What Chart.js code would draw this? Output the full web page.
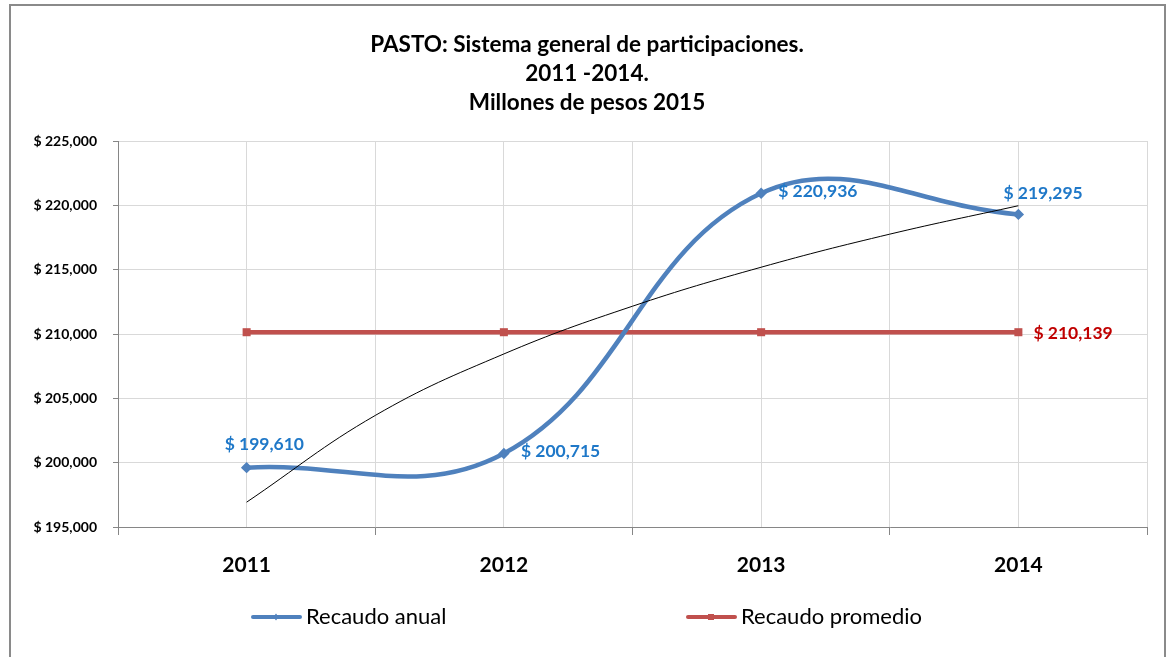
<!DOCTYPE html>
<html>
<head>
<meta charset="utf-8">
<script src="https://cdn.jsdelivr.net/npm/chart.js@4.4.1/dist/chart.umd.min.js"></script>
<style>
  html, body { margin: 0; padding: 0; background: #fff; }
  #wrap { width: 1172px; height: 657px; }
</style>
</head>
<body>
<div id="wrap"><canvas id="chart" width="1172" height="657"></canvas></div>
<script>
// data
const years = [2011, 2012, 2013, 2014];
const recaudoAnual = [199610, 200715, 220936, 219295];
const recaudoPromedio = [210139, 210139, 210139, 210139];
// black trend line (log fit in the original), estimated at half years
const trendYears = [2011, 2011.5, 2012, 2012.5, 2013, 2013.5, 2014];
const tendencia = [196930, 203670, 208450, 212160, 215190, 217760, 219970];
const titleLines = ['PASTO: Sistema general de participaciones.', '2011 -2014.', 'Millones de pesos 2015'];
const seriesNames = ['Recaudo anual', 'Recaudo promedio'];

const BLUE = '#4f81bd';
const RED = '#c0504d';
const FONT = 'Lato, "Open Sans", sans-serif';

function money(v) {
    return '$ ' + v.toLocaleString('en-US');
}

function pts(xs, ys) {
    return xs.map((x, i) => ({x: x, y: ys[i]}));
}

// where each data label sits, relative to its point (left aligned text)
const labelOffsets = [
    [[-22, -23], [17, -2], [17, -2], [-15, -21]],
    [null, null, null, [15, 1]]
];
const labelColors = ['#1f78c8', '#c00000'];

const extras = {
    id: 'extras',
    beforeDraw(chart) {
        const ctx = chart.ctx;
        ctx.save();
        ctx.fillStyle = '#fff';
        ctx.fillRect(0, 0, chart.width, chart.height);
        ctx.strokeStyle = '#8a8a8a';
        ctx.lineWidth = 2;
        ctx.strokeRect(10, 5, 1155, 700);

        // title, centred on the whole frame like the original
        ctx.fillStyle = '#000';
        ctx.font = 'bold 22.5px ' + FONT;
        ctx.textAlign = 'center';
        ctx.textBaseline = 'middle';
        titleLines.forEach((t, i) => ctx.fillText(t, 587, 45 + i * 29));
        ctx.restore();
    },
    afterDatasetsDraw(chart) {
        const ctx = chart.ctx;
        ctx.save();
        ctx.font = 'bold 17.5px ' + FONT;
        ctx.textAlign = 'left';
        ctx.textBaseline = 'middle';
        [1, 2].forEach((di, k) => {
            const meta = chart.getDatasetMeta(di);
            meta.data.forEach((el, i) => {
                const off = labelOffsets[k][i];
                if (!off) return;
                ctx.fillStyle = labelColors[k];
                ctx.fillText(money(chart.data.datasets[di].data[i].y), el.x + off[0], el.y + off[1]);
            });
        });

        // legend
        const items = [
            {x: 253, color: BLUE, marker: 'diamond', text: seriesNames[0]},
            {x: 688, color: RED, marker: 'square', text: seriesNames[1]}
        ];
        const ly = 617;
        items.forEach(it => {
            ctx.strokeStyle = it.color;
            ctx.fillStyle = it.color;
            ctx.lineWidth = 4;
            ctx.lineCap = 'round';
            ctx.beginPath();
            ctx.moveTo(it.x, ly);
            ctx.lineTo(it.x + 47, ly);
            ctx.stroke();
            const cx = it.x + 23;
            ctx.beginPath();
            if (it.marker === 'diamond') {
                ctx.moveTo(cx, ly - 3.5); ctx.lineTo(cx + 2.5, ly); ctx.lineTo(cx, ly + 3.5); ctx.lineTo(cx - 2.5, ly);
            } else {
                ctx.rect(cx - 3, ly - 3, 6, 6);
            }
            ctx.fill();
            ctx.fillStyle = '#000';
            ctx.font = '22px ' + FONT;
            ctx.fillText(it.text, it.x + 53, ly);
        });
        ctx.restore();
    }
};

new Chart('chart', {
    type: 'line',
    data: {
        datasets: [
            {
                label: 'tendencia',
                data: pts(trendYears, tendencia),
                borderColor: '#000',
                borderWidth: 1,
                pointRadius: 0,
                tension: 0.4,
                fill: false
            },
            {
                label: seriesNames[0],
                data: pts(years, recaudoAnual),
                borderColor: BLUE,
                backgroundColor: BLUE,
                borderWidth: 4.5,
                pointStyle: 'rectRot',
                pointRadius: 2.5,
                tension: 0.4,
                fill: false
            },
            {
                label: seriesNames[1],
                data: pts(years, recaudoPromedio),
                borderColor: RED,
                backgroundColor: RED,
                borderWidth: 4.5,
                pointStyle: 'rect',
                pointRadius: 2.5,
                tension: 0,
                fill: false
            }
        ]
    },
    options: {
        responsive: false,
        animation: false,
        events: [],
        layout: {padding: {left: 0, right: 25, top: 141, bottom: 0}},
        plugins: {
            legend: {display: false},
            tooltip: {enabled: false},
            title: {display: false}
        },
        scales: {
            x: {
                type: 'linear',
                min: 2010.5,
                max: 2014.5,
                afterFit: s => { s.height = 130; },
                ticks: {
                    stepSize: 0.5,
                    autoSkip: false,
                    maxRotation: 0,
                    padding: 18,
                    color: '#000',
                    font: {family: FONT, size: 21, weight: 'bold'},
                    callback: v => Number.isInteger(v) ? String(v) : ''
                },
                grid: {
                    color: '#d9d9d9',
                    tickLength: 8,
                    tickColor: c => (c.tick && Number.isInteger(c.tick.value)) ? 'rgba(0,0,0,0)' : '#868686'
                },
                border: {color: '#868686'}
            },
            y: {
                min: 195000,
                max: 225000,
                afterFit: s => { s.width = 118; },
                ticks: {
                    stepSize: 5000,
                    padding: 16,
                    color: '#000',
                    font: {family: FONT, size: 14, weight: 'bold'},
                    callback: v => money(v)
                },
                grid: {
                    color: '#d9d9d9',
                    tickLength: 5,
                    tickColor: '#868686'
                },
                border: {color: '#868686'}
            }
        }
    },
    plugins: [extras]
});
</script>
</body>
</html>
